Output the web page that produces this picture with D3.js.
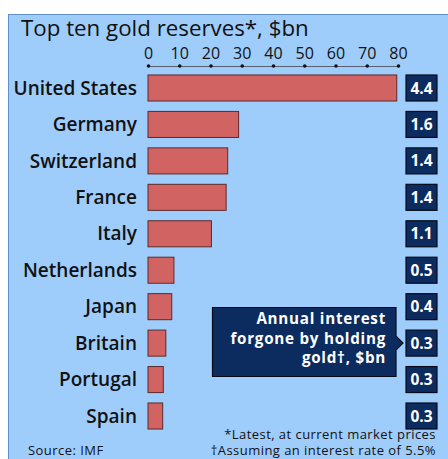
<!DOCTYPE html>
<html>
<head>
<meta charset="utf-8">
<script src="https://cdn.jsdelivr.net/npm/d3@7"></script>
<style>
  html, body { margin: 0; padding: 0; background: #ffffff; }
  svg { display: block; }
  text { font-family: "Open Sans", "Noto Sans", sans-serif; }
</style>
</head>
<body>
<svg id="chart" width="448" height="459"></svg>
<script>
// Gold reserves, $bn (latest, at current market prices)
const countries = ["United States", "Germany", "Switzerland", "France", "Italy",
                   "Netherlands", "Japan", "Britain", "Portugal", "Spain"];
const reserves = [79.6, 29.0, 25.5, 25.0, 20.3, 8.3, 7.6, 5.7, 4.9, 4.7];
// Annual interest forgone by holding gold, $bn
const interest = ["4.4", "1.6", "1.4", "1.4", "1.1", "0.5", "0.4", "0.3", "0.3", "0.3"];
const xTicks = [0, 10, 20, 30, 40, 50, 60, 70, 80];

const svg = d3.select("#chart");

// panel background
svg.append("rect")
  .attr("x", 8.5).attr("y", 14.5)
  .attr("width", 450).attr("height", 460)
  .attr("fill", "#9fcdfb")
  .attr("stroke", "#5e8fd0")
  .attr("stroke-width", 1);

svg.append("text")
  .attr("x", 21).attr("y", 36)
  .attr("font-size", 22.3)
  .attr("fill", "#111")
  .text("Top ten gold reserves*, $bn");

const x = d3.scaleLinear().domain([0, 80]).range([148, 398]);
const y = d3.scaleBand().domain(countries).range([69.5, 434.5]).paddingInner(0.285).paddingOuter(0.15);

// axis on top: thin line with dots at each tick
const axisY = 66;
const axis = d3.axisTop(x).tickValues(xTicks).tickSize(0).tickPadding(7);
const ag = svg.append("g").attr("transform", `translate(0,${axisY})`).call(axis);
ag.select(".domain").attr("stroke", "#444").attr("stroke-width", 0.8);
ag.selectAll(".tick text")
  .attr("font-size", 16)
  .attr("fill", "#111")
  .attr("font-family", "'Open Sans', sans-serif");
ag.selectAll(".tick").append("circle").attr("r", 1.8).attr("fill", "#111");

// bars
svg.append("g").selectAll("rect")
  .data(countries)
  .join("rect")
  .attr("x", x(0))
  .attr("y", d => y(d))
  .attr("width", (d, i) => x(reserves[i]) - x(0))
  .attr("height", y.bandwidth())
  .attr("fill", "#d26363")
  .attr("stroke", "#5b2a2a")
  .attr("stroke-width", 1);

// country labels
svg.append("g").selectAll("text")
  .data(countries)
  .join("text")
  .attr("x", 137)
  .attr("y", d => y(d) + y.bandwidth() / 2)
  .attr("dy", "0.35em")
  .attr("text-anchor", "end")
  .attr("font-size", 19)
  .attr("font-weight", 600)
  .attr("fill", "#111")
  .text(d => d);

// interest value boxes
const boxes = svg.append("g").selectAll("g")
  .data(countries)
  .join("g")
  .attr("transform", d => `translate(406,${y(d) + y.bandwidth() / 2})`);
boxes.append("rect")
  .attr("x", 0).attr("y", -13)
  .attr("width", 31).attr("height", 26)
  .attr("fill", "#0c2b5f")
  .attr("stroke", "#020a1a")
  .attr("stroke-width", 1.2);
boxes.append("text")
  .attr("x", 15.5).attr("y", 0)
  .attr("dy", "0.36em")
  .attr("text-anchor", "middle")
  .attr("font-size", 15.5)
  .attr("font-weight", 700)
  .attr("fill", "#ffffff")
  .text((d, i) => interest[i]);

// callout explaining the boxes
const cy = y("Britain") + y.bandwidth() / 2;
const callout = svg.append("g");
callout.append("path")
  .attr("d", `M212.5,307.5 H396 V${cy - 7} L403,${cy} L396,${cy + 7} V376.5 H212.5 Z`)
  .attr("fill", "#0c2b5f")
  .attr("stroke", "#020a1a")
  .attr("stroke-width", 1.2);
const lines = ["Annual interest", "forgone by holding", "gold\u2020, $bn"];
callout.selectAll("text")
  .data(lines)
  .join("text")
  .attr("x", 386)
  .attr("y", (d, i) => 324 + i * 19.6)
  .attr("text-anchor", "end")
  .attr("font-family", "Roboto, sans-serif")
  .attr("font-size", 15.2)
  .attr("letter-spacing", 0.75)
  .attr("font-weight", 700)
  .attr("fill", "#ffffff")
  .text(d => d);

// footnotes
const foot = svg.append("g")
  .attr("font-family", "Roboto, sans-serif")
  .attr("font-size", 13)
  .attr("letter-spacing", 0.45)
  .attr("fill", "#111");
foot.append("text")
  .attr("x", 28).attr("y", 455)
  .text("Source: IMF");
foot.append("text")
  .attr("x", 436).attr("y", 438.5)
  .attr("text-anchor", "end")
  .text("*Latest, at current market prices");
foot.append("text")
  .attr("x", 436).attr("y", 455)
  .attr("text-anchor", "end")
  .text("\u2020Assuming an interest rate of 5.5%");
</script>
</body>
</html>
